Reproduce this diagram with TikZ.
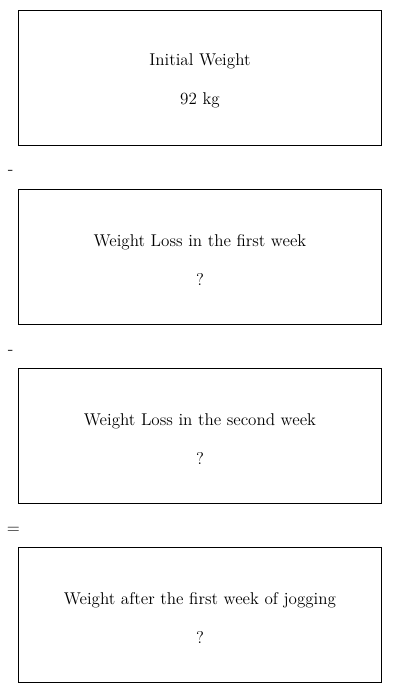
\documentclass[tikz,border=0pt]{standalone}
\usetikzlibrary{positioning,calc}
\newcommand{\wtop}{\rule{0pt}{13pt}}

\begin{document}
\begin{tikzpicture}[
    node distance=32.4pt,
    wbox/.style={rectangle,draw,line width=0.7pt,minimum width=272.25pt,
                 minimum height=101.25pt,align=center,
                 font=\fontsize{12.8}{29.5}\selectfont},
    op/.style={font=\fontsize{12.8}{14}\selectfont,inner sep=0pt}
]
    \useasboundingbox (0,0) rectangle (300pt,-519.75pt);
    \node[wbox,anchor=north west] (init) at (13.5pt,-7.5pt) {\wtop Initial Weight\\92 kg};
    \node[wbox,below=of init] (loss1) {\wtop Weight Loss in the first week\\?};
    \node[wbox,below=of loss1] (loss2) {\wtop Weight Loss in the second week\\?};
    \node[wbox,below=of loss2] (result) {\wtop Weight after the first week of jogging\\?};
    % operators between the boxes
    \node[op] (minus1) at ([xshift=-5.5pt,yshift=-4pt]$(init.south west)!.5!(loss1.north west)$) {-};
    \node[op] (minus2) at ([xshift=-5.5pt,yshift=-4pt]$(loss1.south west)!.5!(loss2.north west)$) {-};
    \node[op] (equals) at ([xshift=-3.5pt,yshift=-3.5pt]$(loss2.south west)!.5!(result.north west)$) {=};
\end{tikzpicture}
\end{document}
